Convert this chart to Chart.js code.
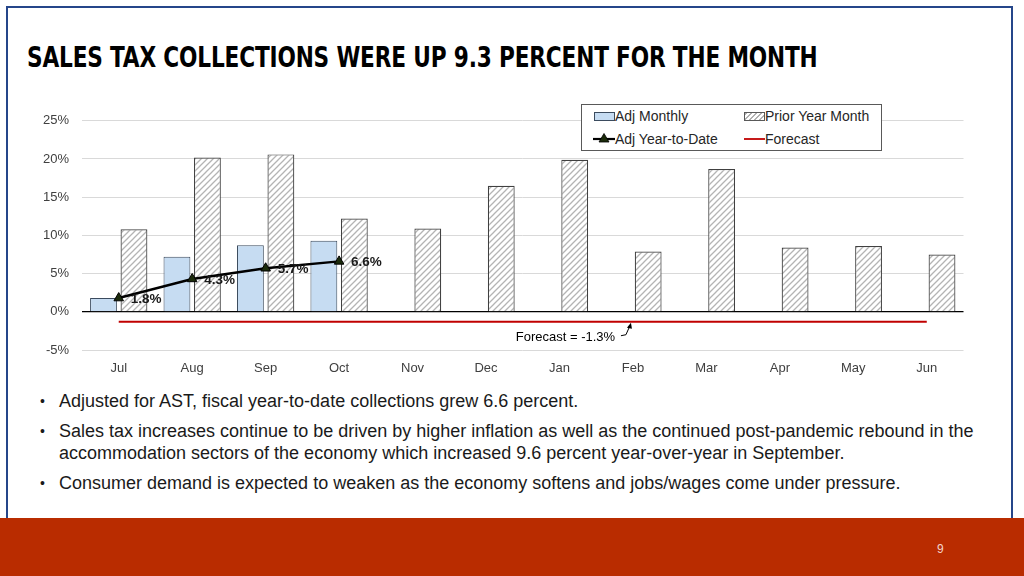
<!DOCTYPE html>
<html>
<head>
<meta charset="utf-8">
<script src="https://cdn.jsdelivr.net/npm/chart.js@4.4.1/dist/chart.umd.min.js"></script>
<style>
  html, body { margin: 0; padding: 0; background: #fff; }
  body { width: 1024px; height: 576px; position: relative; overflow: hidden; font-family: "Liberation Sans", Arial, sans-serif; }
  #frame { position: absolute; left: 6px; top: 6px; width: 1007px; height: 520px; border: 2px solid #25468a; border-bottom: none; box-sizing: border-box; }
  #title { position: absolute; left: 27px; top: 40px; font-family: "DejaVu Sans Condensed", "DejaVu Sans", sans-serif; font-weight: bold; font-size: 29px; color: #000; white-space: nowrap; letter-spacing: -0.2px; transform: scaleX(0.83); transform-origin: 0 0; }
  #chartBox { position: absolute; left: 20px; top: 100px; width: 950px; height: 285px; }
  #legend { position: absolute; left: 581px; top: 104px; width: 301px; height: 47px; border: 1px solid #595959; background: #fff; box-sizing: border-box; font-size: 14px; color: #262626; }
  .lg { position: absolute; white-space: nowrap; }
  .sw { position: absolute; }
  #bullets { position: absolute; left: 40px; top: 390px; font-size: 18px; color: #1a1a1a; }
  #bullets p { margin: 0 0 8px 0; padding-left: 19px; position: relative; line-height: 22px; white-space: nowrap; }
  #bullets p:before { content: "\2022"; position: absolute; left: 0; top: 0; font-size: 14px; }
  #footer { position: absolute; left: 0; top: 518px; width: 1024px; height: 58px; background: #b92c00; }
  #pnum { position: absolute; left: 937px; top: 542px; font-size: 12px; color: #f3d6cc; }
</style>
</head>
<body>
<div id="frame"></div>
<div id="title">SALES TAX COLLECTIONS WERE UP 9.3 PERCENT FOR THE MONTH</div>
<div id="chartBox"><canvas id="vendas"></canvas></div>
<div id="legend">
  <div class="sw" style="left:12px;top:7px;width:19px;height:7px;background:#c6dcf2;border:1px solid #3b4b5e;"></div>
  <div class="lg" style="left:33px;top:3px;">Adj Monthly</div>
  <div class="sw" style="left:162px;top:7px;width:19px;height:7px;border:1px solid #595959;background:repeating-linear-gradient(-45deg,#fff 0,#fff 2.5px,#b0b0b0 2.5px,#b0b0b0 3.6px);"></div>
  <div class="lg" style="left:183px;top:3px;">Prior Year Month</div>
  <svg class="sw" style="left:11px;top:27px;" width="22" height="12"><line x1="0" y1="7" x2="22" y2="7" stroke="#000" stroke-width="2.2"/><polygon points="11,1.5 16,10 6,10" fill="#1b2b0b" stroke="#000" stroke-width="0.8"/></svg>
  <div class="lg" style="left:33px;top:26px;">Adj Year-to-Date</div>
  <svg class="sw" style="left:162px;top:27px;" width="22" height="12"><line x1="0" y1="7" x2="21" y2="7" stroke="#c00000" stroke-width="1.8"/></svg>
  <div class="lg" style="left:183px;top:26px;">Forecast</div>
</div>
<div id="bullets">
  <p>Adjusted for AST, fiscal year-to-date collections grew 6.6 percent.</p>
  <p>Sales tax increases continue to be driven by higher inflation as well as the continued post-pandemic rebound in the<br>accommodation sectors of the economy which increased 9.6 percent year-over-year in September.</p>
  <p>Consumer demand is expected to weaken as the economy softens and jobs/wages come under pressure.</p>
</div>
<div id="footer"></div>
<div id="pnum">9</div>

<script>
// dados do grafico
var meses = ['Jul', 'Aug', 'Sep', 'Oct', 'Nov', 'Dec', 'Jan', 'Feb', 'Mar', 'Apr', 'May', 'Jun'];
var adjMensal = [1.8, 7.2, 8.7, 9.3, null, null, null, null, null, null, null, null];
var anoAnterior = [10.8, 20.2, 20.6, 12.2, 10.9, 16.5, 19.9, 7.9, 18.7, 8.4, 8.6, 7.5];
var adjAcumulado = [1.8, 4.3, 5.7, 6.6, null, null, null, null, null, null, null, null];
var previsao = [-1.3, -1.3, -1.3, -1.3, -1.3, -1.3, -1.3, -1.3, -1.3, -1.3, -1.3, -1.3];
var ticksY = [-5, 0, 5, 10, 15, 20, 25];

// hachurado cinza para o ano anterior
function hachura() {
  var p = document.createElement('canvas');
  p.width = 6; p.height = 6;
  var c = p.getContext('2d');
  c.fillStyle = '#fff';
  c.fillRect(0, 0, 6, 6);
  c.strokeStyle = '#b4b4b4';
  c.lineWidth = 1.3;
  c.beginPath();
  c.moveTo(0, 6); c.lineTo(6, 0);
  c.moveTo(-1, 1); c.lineTo(1, -1);
  c.moveTo(5, 7); c.lineTo(7, 5);
  c.stroke();
  return c.createPattern(p, 'repeat');
}

var ctx = document.getElementById('vendas').getContext('2d');

// rotulos do acumulado + nota da previsao
var extras = {
  id: 'extras',
  afterDatasetsDraw: function (chart) {
    var c = chart.ctx;
    var meta = chart.getDatasetMeta(0);
    c.save();
    c.font = 'bold 13.5px "Liberation Sans", Arial, sans-serif';
    c.fillStyle = '#1a1a1a';
    c.textAlign = 'left';
    c.textBaseline = 'middle';
    meta.data.forEach(function (pt, i) {
      if (adjAcumulado[i] == null) return;
      c.fillText(adjAcumulado[i].toFixed(1) + '%', pt.x + 12, pt.y + 1);
    });
    var xs = chart.scales.x, ys = chart.scales.y;
    var yf = ys.getPixelForValue(previsao[0]);
    var xj = xs.getPixelForValue(6);
    c.font = '13px "Liberation Sans", Arial, sans-serif';
    c.fillStyle = '#000';
    c.textAlign = 'center';
    c.fillText('Forecast = -1.3%', xj + 6, yf + 16);
    // seta
    var tx = xs.getPixelForValue(7) - 2;
    c.strokeStyle = '#000';
    c.lineWidth = 1;
    c.beginPath();
    c.moveTo(tx - 10, yf + 14);
    c.lineTo(tx - 5, yf + 13);
    c.lineTo(tx - 1, yf + 4);
    c.stroke();
    c.beginPath();
    c.moveTo(tx, yf + 1);
    c.lineTo(tx - 4, yf + 6);
    c.lineTo(tx + 1, yf + 7);
    c.closePath();
    c.fillStyle = '#000';
    c.fill();
    c.restore();
  }
};

var myChartVendas = new Chart(ctx, {
  type: 'bar',
  data: {
    labels: meses,
    datasets: [
      {
        type: 'line',
        label: 'Adj Year-to-Date',
        data: adjAcumulado,
        borderColor: '#000',
        borderWidth: 2.5,
        pointStyle: 'triangle',
        pointRadius: 5.5,
        pointBackgroundColor: '#1b2b0b',
        pointBorderColor: '#000',
        pointBorderWidth: 1,
        spanGaps: false,
        order: 0
      },
      {
        type: 'line',
        label: 'Forecast',
        data: previsao,
        borderColor: '#c00000',
        borderWidth: 1.8,
        pointRadius: 0,
        order: 1
      },
      {
        label: 'Adj Monthly',
        data: adjMensal,
        backgroundColor: '#c6dcf2',
        borderColor: '#3b4b5e',
        borderWidth: 1,
        categoryPercentage: 0.83,
        barPercentage: 0.88,
        order: 2
      },
      {
        label: 'Prior Year Month',
        data: anoAnterior,
        backgroundColor: hachura(),
        borderColor: '#404040',
        borderWidth: 1.2,
        categoryPercentage: 0.83,
        barPercentage: 0.88,
        order: 2
      }
    ]
  },
  options: {
    responsive: true,
    maintainAspectRatio: false,
    animation: false,
    layout: { padding: { top: 18, right: 5, left: 0, bottom: 0 } },
    plugins: {
      legend: { display: false },
      tooltip: { enabled: false }
    },
    scales: {
      x: {
        grid: { display: false, drawTicks: false },
        border: { display: false },
        ticks: { color: '#404040', padding: 11, font: { size: 13, family: '"Liberation Sans", Arial, sans-serif' } },
        afterFit: function (s) { s.height = 35; }
      },
      y: {
        min: -5,
        max: 25,
        afterBuildTicks: function (s) { s.ticks = ticksY.map(function (v) { return { value: v }; }); },
        grid: {
          drawTicks: false,
          color: function (c) { return c.tick && c.tick.value === 0 ? '#000' : '#d9d9d9'; },
          lineWidth: function (c) { return c.tick && c.tick.value === 0 ? 1.3 : 1; }
        },
        border: { display: false },
        ticks: {
          color: '#404040',
          padding: 13,
          font: { size: 13, family: '"Liberation Sans", Arial, sans-serif' },
          callback: function (v) { return v + '%'; }
        },
        afterFit: function (s) { s.width = 62; }
      }
    }
  },
  plugins: [extras]
});
</script>
</body>
</html>
